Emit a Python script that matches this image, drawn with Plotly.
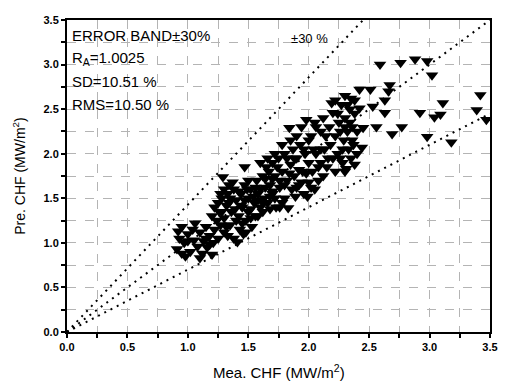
import plotly.graph_objects as go

# measured CHF (x) and predicted CHF (y), MW/m^2
mea_chf = [
    0.92, 0.93, 0.91, 0.95, 0.97, 1.00, 1.02, 1.04, 1.05, 1.08, 1.10, 1.12, 1.13, 1.15, 1.16, 1.18,
    1.20, 1.21, 1.22, 1.24, 1.25, 1.27, 1.28, 1.30, 1.29, 1.47,
    1.20, 1.22, 1.25, 1.28, 1.30, 1.32, 1.33, 1.35, 1.36, 1.38, 1.40, 1.41, 1.42, 1.43, 1.44, 1.45,
    1.47, 1.48, 1.50, 1.50, 1.52, 1.53, 1.55, 1.56, 1.57, 1.58, 1.60, 1.38, 1.46, 1.34,
    1.60, 1.62, 1.63, 1.65, 1.66, 1.68, 1.70, 1.70, 1.72, 1.73, 1.75, 1.76, 1.78, 1.80, 1.80, 1.82,
    1.83, 1.84, 1.85, 1.86, 1.87, 1.88, 1.89, 1.90, 1.92, 1.93, 1.95, 1.96, 1.97, 1.99, 2.00, 2.00,
    2.02, 2.03, 2.05, 2.06, 2.08, 2.10, 2.10, 2.12, 2.13, 2.15, 2.17, 2.18, 2.19, 2.20, 2.20, 2.22,
    2.24, 2.25, 2.27, 2.28, 2.29, 2.30, 2.30, 2.31, 2.32, 2.33, 2.34, 2.35, 2.36, 2.37, 2.38, 2.38,
    2.42, 2.51, 2.67, 2.66, 2.63, 2.53, 2.63, 2.42, 2.45, 2.56, 2.69, 2.77, 2.44, 2.59, 2.76, 2.88,
    2.98, 3.02, 2.92, 2.98, 3.11, 3.09, 3.04, 3.18, 3.42, 3.39, 3.47,
    0.95, 0.98, 1.06, 1.10, 1.15, 1.18, 1.00,
    1.26, 1.30, 1.32, 1.35, 1.37, 1.40, 1.42, 1.45, 1.47, 1.50, 1.52, 1.54, 1.27, 1.39, 1.49, 1.33, 1.48,
    1.58, 1.60, 1.62, 1.64, 1.66, 1.68, 1.70, 1.72, 1.74, 1.76, 1.62, 1.67,
    1.78, 1.82, 1.85, 1.88, 1.90, 1.92, 1.94, 1.96, 1.98, 2.00, 2.02, 2.04, 2.06, 2.08, 2.10, 2.12,
    2.14, 2.16, 1.80, 1.84, 1.78, 1.94, 1.98, 2.05, 1.72, 1.76, 1.90,
    2.22, 2.24, 2.26, 2.28, 2.30, 2.32, 2.34, 2.36, 2.38, 2.40, 2.40, 2.26, 2.22, 2.35, 2.30,
    1.34, 1.44, 1.52, 1.58, 1.64, 1.70, 1.56, 1.68,
]
pre_chf = [
    1.13, 1.05, 0.93, 0.88, 1.00, 1.10, 0.90, 1.15, 1.03, 0.96, 1.12, 0.88, 1.02, 1.18, 0.95, 1.08,
    0.87, 1.00, 1.15, 1.25, 1.05, 1.20, 1.35, 1.12, 1.74, 1.85,
    1.30, 1.40, 1.45, 1.50, 1.28, 1.42, 1.55, 1.20, 1.35, 1.60, 1.48, 1.01, 1.30, 1.15, 1.55, 1.40,
    1.65, 1.25, 1.50, 1.35, 1.60, 1.18, 1.45, 1.30, 1.70, 1.55, 1.40, 1.05, 1.10, 1.65,
    1.60, 1.75, 1.50, 1.85, 1.45, 1.65, 1.90, 1.55, 1.75, 1.40, 1.95, 1.62, 1.80, 2.00, 1.50, 1.70,
    1.39, 2.29, 1.88, 1.60, 2.05, 1.75, 1.52, 1.95, 1.65, 2.10, 1.80, 1.55, 2.00, 1.52, 1.68, 1.90,
    2.20, 1.80, 2.35, 2.00, 1.70, 2.25, 1.90, 2.40, 2.05, 1.85, 2.30, 2.10, 2.57, 2.46, 1.95, 2.20,
    2.00, 2.35, 2.55, 1.90, 2.15, 2.65, 2.40, 1.83, 2.25, 2.05, 2.50, 1.95, 2.30, 2.10, 2.60, 1.88,
    2.72, 2.72, 2.77, 2.70, 2.60, 2.53, 2.46, 2.51, 2.29, 2.30, 2.22, 2.30, 2.07, 3.00, 3.02, 3.06,
    3.04, 2.88, 2.46, 2.19, 2.57, 2.44, 2.41, 2.13, 2.66, 2.49, 2.38,
    1.18, 0.85, 1.22, 0.83, 1.05, 0.98, 1.02,
    1.35, 1.60, 1.18, 1.50, 1.68, 1.25, 1.58, 1.22, 1.48, 1.70, 1.28, 1.52, 1.55, 1.38, 1.60, 1.08, 1.12,
    1.30, 1.90, 1.35, 1.62, 1.95, 1.38, 1.72, 1.50, 1.85, 1.40, 1.45, 1.80,
    2.10, 1.95, 2.15, 1.95, 2.20, 1.82, 2.30, 2.05, 2.38, 2.15, 1.62, 2.05, 2.30, 1.85, 2.05, 1.75,
    2.20, 1.95, 1.65, 1.78, 1.45, 1.68, 1.78, 1.60, 2.00, 1.70, 1.62,
    2.60, 2.45, 2.25, 2.05, 1.80, 2.55, 2.35, 2.15, 2.45, 2.25, 2.00, 1.95, 1.80, 2.62, 2.30,
    1.45, 1.42, 1.38, 1.48, 1.72, 1.58, 1.62, 1.52,
]

band = 0.30
axis_max = 3.5
tick_vals = [0.0, 0.5, 1.0, 1.5, 2.0, 2.5, 3.0, 3.5]
tick_text = ["0.0", "0.5", "1.0", "1.5", "2.0", "2.5", "3.0", "3.5"]
ratios = [1.0 / (1.0 - band), 1.0, 1.0 - band]

fig = go.Figure()
for r in ratios:
    x_end = min(axis_max, axis_max / r)
    fig.add_trace(go.Scatter(
        x=[0, x_end], y=[0, x_end * r], mode="lines",
        line=dict(color="black", width=2, dash="2px,5px"),
        showlegend=False, hoverinfo="skip"))

fig.add_trace(go.Scatter(
    x=mea_chf, y=pre_chf, mode="markers",
    marker=dict(symbol="triangle-down", size=11, color="black"),
    showlegend=False))

axis_common = dict(
    range=[0, axis_max], tickvals=tick_vals, ticktext=tick_text, automargin=False,
    showgrid=False, zeroline=False, showline=True, linecolor="black", linewidth=2,
    mirror=True, ticks="outside", ticklen=4, tickwidth=1.5, tickcolor="black",
    tickfont=dict(family="Arial", size=11, color="black", weight="bold"),
    minor=dict(dtick=0.25, tick0=0, showgrid=True, gridcolor="#b4b4b4", griddash="dash",
               gridwidth=1, ticks="outside", ticklen=4, tickcolor="black"),
)

# page body has an 8px default margin, so the figure is drawn 8px in from the window corner
fig.update_layout(
    width=502, height=379,
    margin=dict(l=59, r=20, t=12, b=55),
    paper_bgcolor="white", plot_bgcolor="white",
    font=dict(family="Arial", color="black"),
    xaxis=axis_common,
    yaxis=axis_common,
)

fig.add_annotation(x=0.5, xref="paper", y=-0.128, yref="paper",
                   text="Mea. CHF (MW/m<sup>2</sup>)", showarrow=False,
                   xanchor="center", yanchor="middle",
                   font=dict(size=15, family="Arial", color="black"))
fig.add_annotation(x=-0.114, xref="paper", y=0.5, yref="paper",
                   text="Pre. CHF (MW/m<sup>2</sup>)", showarrow=False, textangle=-90,
                   xanchor="center", yanchor="middle",
                   font=dict(size=14, family="Arial", color="black"))

notes = ["ERROR BAND\u00b130%", "R<sub>A</sub>=1.0025", "SD=10.51 %", "RMS=10.50 %"]
for i, t in enumerate(notes):
    fig.add_annotation(x=0.008, xref="paper", y=1 - 0.051 - i * 0.0737, yref="paper",
                       text=t, showarrow=False, xanchor="left", yanchor="middle",
                       font=dict(size=15, family="Arial", color="black"))
fig.add_annotation(x=0.525, xref="paper", y=0.94, yref="paper", text="\u00b130 %",
                   showarrow=False, xanchor="left", yanchor="middle",
                   font=dict(size=13, family="Arial", color="black"))

fig.write_html("out.html")
